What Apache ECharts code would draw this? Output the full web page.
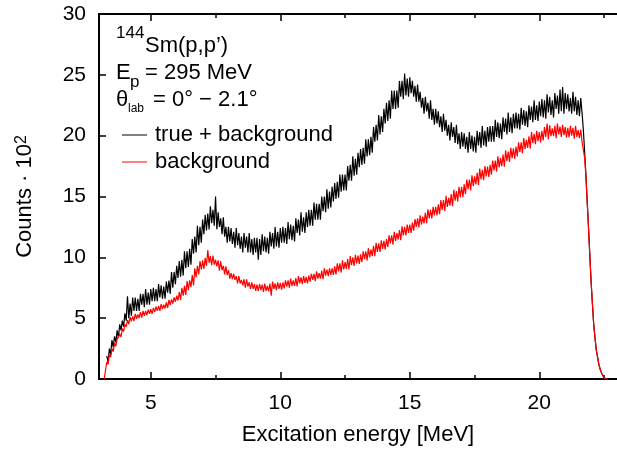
<!DOCTYPE html>
<html>
<head>
<meta charset="utf-8">
<script src="https://cdn.jsdelivr.net/npm/echarts@6/dist/echarts.min.js"></script>
<style>
  html, body { margin: 0; padding: 0; background: #fff; }
  #chart { width: 617px; height: 451px; }
</style>
</head>
<body>
<div id="chart"></div>
<script>
// spectrum bins: first bin energy and bin width [MeV]
// every bin holds the top and the bottom of the noisy band (counts / 100)
const E_START = 3.2
const E_STEP = 0.1

// true + background
const totalHigh = [null,
  1.9, 2.5, 3.2, 3.5, 4.0, 4.5, 4.8, 5.4,
  6.8, 6.2, 6.7, 6.7, 6.6, 7.0, 7.0, 7.4, 7.1, 7.4,
  7.5, 7.4, 7.8, 7.7, 7.6, 8.0, 8.1, 8.8, 8.8, 9.3,
  9.7, 9.8, 10.5, 10.5, 10.7, 11.5, 11.7, 12.6, 12.5, 13.1,
  13.5, 13.6, 14.2, 13.9, 15.0, 13.7, 13.2, 13.3, 12.5, 12.5,
  12.4, 12.1, 12.4, 12.0, 11.7, 12.0, 11.7, 12.0, 11.5, 11.6,
  11.6, 11.5, 11.9, 11.7, 11.6, 12.1, 12.0, 12.5, 12.1, 12.4,
  12.5, 12.4, 12.9, 12.7, 12.6, 13.2, 13.1, 13.7, 13.3, 13.7,
  13.9, 13.9, 14.5, 14.4, 14.4, 15.0, 15.0, 15.6, 15.4, 15.8,
  16.1, 16.2, 16.8, 16.8, 16.8, 17.5, 17.6, 18.3, 18.1, 18.6,
  18.9, 19.0, 19.7, 19.7, 19.9, 20.7, 20.9, 21.7, 21.6, 22.2,
  22.7, 22.9, 23.7, 23.7, 23.7, 24.5, 24.5, 25.1, 24.7, 24.8,
  24.5, 24.1, 24.2, 23.6, 23.1, 23.2, 22.7, 22.9, 22.2, 22.2,
  22.0, 21.6, 21.8, 21.3, 20.9, 21.1, 20.7, 20.9, 20.2, 20.3,
  20.2, 19.9, 20.3, 20.0, 19.9, 20.4, 20.3, 20.8, 20.4, 20.7,
  20.8, 20.8, 21.3, 21.1, 21.0, 21.5, 21.4, 21.9, 21.5, 21.8,
  21.9, 21.8, 22.3, 22.1, 22.0, 22.5, 22.4, 22.9, 22.5, 22.8,
  23.0, 22.9, 23.4, 23.2, 22.9, 23.5, 23.3, 23.8, 24.0, 23.5,
  23.4, 23.1, 23.6, 23.2, 22.9, 23.1,
  20.5, 16.8, 12.5, 8.0, 4.5, 2.4, 1.2, 0.5, 0.1, 0.0
]
const totalLow = [null,
  1.4, 2.0, 2.6, 3.0, 3.4, 4.0, 4.3, 4.8,
  5.0, 5.2, 5.6, 5.6, 5.6, 6.1, 5.9, 6.1, 6.1, 6.4,
  6.4, 6.4, 6.7, 6.6, 6.6, 7.1, 7.0, 7.5, 7.8, 8.3,
  8.4, 8.5, 9.1, 9.2, 9.4, 10.3, 10.4, 11.0, 11.2, 11.9,
  12.2, 12.3, 12.8, 12.6, 12.3, 12.5, 11.9, 11.7, 11.2, 11.3,
  11.1, 10.8, 11.0, 10.7, 10.4, 10.8, 10.4, 10.4, 10.2, 10.4,
  9.8, 10.2, 10.5, 10.4, 10.3, 10.9, 10.7, 10.9, 10.8, 11.2,
  11.2, 11.1, 11.5, 11.4, 11.3, 12.0, 11.8, 12.1, 12.0, 12.5,
  12.6, 12.6, 13.1, 13.1, 13.1, 13.8, 13.7, 14.0, 14.1, 14.6,
  14.8, 14.9, 15.4, 15.5, 15.5, 16.3, 16.3, 16.7, 16.8, 17.4,
  17.6, 17.7, 18.3, 18.4, 18.6, 19.5, 19.6, 20.1, 20.3, 21.0,
  21.2, 21.4, 22.2, 22.2, 22.3, 23.2, 23.0, 23.3, 23.2, 23.5,
  23.2, 22.8, 22.8, 22.3, 21.8, 22.0, 21.4, 21.3, 20.9, 21.0,
  20.7, 20.3, 20.4, 20.0, 19.6, 19.9, 19.4, 19.3, 18.9, 19.1,
  18.9, 18.6, 18.9, 18.7, 18.6, 19.2, 19.0, 19.2, 19.1, 19.5,
  19.5, 19.5, 19.9, 19.8, 19.7, 20.3, 20.1, 20.3, 20.2, 20.6,
  20.6, 20.5, 20.9, 20.8, 20.7, 21.3, 21.1, 21.3, 21.2, 21.6,
  21.5, 21.4, 21.9, 21.7, 21.5, 22.2, 21.8, 22.0, 21.8, 22.2,
  22.0, 21.8, 22.0, 21.7, 21.6, 21.9,
  18.7, 14.6, 10.2, 6.2, 3.4, 1.8, 0.8, 0.3, 0.0, 0.0
]

// background only
const bgHigh = [0.0,
  1.4, 2.0, 2.5, 2.95, 3.25, 3.7, 4.15, 4.5,
  4.85, 5.1, 5.15, 5.35, 5.3, 5.5, 5.6, 5.6, 5.7, 5.75,
  5.85, 5.95, 6.0, 6.15, 6.1, 6.3, 6.5, 6.55, 6.7, 6.85,
  7.15, 7.5, 7.65, 8.05, 8.1, 8.55, 9.1, 9.3, 9.7, 9.75,
  9.95, 10.6, 10.1, 10.15, 9.8, 9.75, 9.7, 9.3, 9.25, 8.95,
  8.7, 8.65, 8.45, 8.45, 8.15, 8.2, 8.2, 7.95, 7.95, 7.8,
  7.75, 7.8, 7.75, 7.85, 7.65, 7.85, 8.0, 7.85, 7.95, 7.9,
  7.95, 8.1, 8.1, 8.25, 8.1, 8.3, 8.45, 8.35, 8.45, 8.4,
  8.5, 8.65, 8.65, 8.85, 8.7, 8.9, 9.1, 9.0, 9.1, 9.1,
  9.25, 9.5, 9.5, 9.75, 9.6, 9.85, 10.1, 10.0, 10.2, 10.15,
  10.25, 10.5, 10.5, 10.75, 10.65, 10.95, 11.2, 11.15, 11.4, 11.35,
  11.5, 11.8, 11.8, 12.1, 12.0, 12.25, 12.55, 12.5, 12.7, 12.7,
  12.85, 13.15, 13.2, 13.45, 13.35, 13.65, 13.95, 13.9, 14.15, 14.15,
  14.35, 14.7, 14.7, 15.05, 14.9, 15.2, 15.55, 15.45, 15.8, 15.8,
  16.0, 16.4, 16.4, 16.75, 16.65, 16.95, 17.3, 17.2, 17.5, 17.45,
  17.6, 17.95, 17.95, 18.3, 18.15, 18.45, 18.8, 18.7, 19.0, 18.95,
  19.1, 19.45, 19.45, 19.8, 19.65, 19.95, 20.3, 20.15, 20.4, 20.3,
  20.4, 20.7, 21.0, 20.85, 20.6, 20.8, 21.0, 20.75, 20.9, 20.7,
  20.65, 20.8, 20.65, 20.8, 20.45, 20.5,
  19.4, 16.6, 12.4, 8.0, 4.5, 2.4, 1.2, 0.5, 0.1, 0.0
]
const bgLow = [0.0,
  1.2, 1.8, 2.25, 2.7, 3.1, 3.45, 3.9, 4.3,
  4.5, 4.75, 4.75, 4.95, 5.0, 5.05, 5.2, 5.25, 5.35, 5.35,
  5.5, 5.6, 5.6, 5.75, 5.8, 5.85, 6.1, 6.2, 6.35, 6.45,
  6.5, 6.85, 6.9, 7.3, 7.55, 7.7, 8.35, 8.6, 9.0, 9.05,
  9.3, 9.55, 9.35, 9.4, 9.25, 8.9, 8.95, 8.6, 8.55, 8.25,
  8.2, 8.15, 7.85, 7.85, 7.7, 7.5, 7.6, 7.4, 7.4, 7.25,
  7.25, 7.3, 7.15, 7.25, 7.2, 6.85, 7.4, 7.3, 7.4, 7.35,
  7.45, 7.6, 7.5, 7.65, 7.65, 7.6, 7.85, 7.8, 7.9, 7.85,
  8.0, 8.15, 8.05, 8.25, 8.25, 8.2, 8.5, 8.45, 8.55, 8.55,
  8.6, 8.85, 8.75, 9.0, 9.05, 9.0, 9.35, 9.3, 9.5, 9.45,
  9.6, 9.85, 9.75, 10.0, 10.1, 10.1, 10.45, 10.45, 10.7, 10.65,
  10.85, 11.15, 11.05, 11.35, 11.45, 11.4, 11.8, 11.8, 12.0, 12.0,
  12.2, 12.5, 12.45, 12.7, 12.8, 12.8, 13.2, 13.2, 13.45, 13.45,
  13.55, 13.9, 13.8, 14.15, 14.25, 14.2, 14.65, 14.6, 14.95, 14.95,
  15.2, 15.6, 15.5, 15.85, 16.0, 15.95, 16.4, 16.35, 16.65, 16.6,
  16.8, 17.15, 17.05, 17.4, 17.5, 17.45, 17.9, 17.85, 18.15, 18.1,
  18.3, 18.65, 18.55, 18.9, 19.0, 18.95, 19.4, 19.3, 19.55, 19.45,
  19.6, 19.9, 19.7, 19.95, 19.95, 19.8, 20.1, 19.9, 20.05, 19.85,
  19.85, 20.0, 19.75, 19.9, 19.8, 19.5,
  18.2, 14.5, 10.2, 6.2, 3.4, 1.8, 0.8, 0.3, 0.0, 0.0
]

const xMajorTicks = [5, 10, 15, 20]
const xMinorTicks = [7.5, 12.5, 17.5, 22.5]
const seriesNames = ['true + background', 'background']

const FONT = '"Liberation Sans", Arial, sans-serif'

// top of the band at the bin start, bottom half a bin later
function toPairs(high, low) {
  const out = []
  high.forEach((v, i) => {
    const e = E_START + i * E_STEP
    out.push([+e.toFixed(3), v])
    out.push([+(e + E_STEP / 2).toFixed(3), low[i]])
  })
  return out
}

const chart = echarts.init(document.getElementById('chart'))

const baseX = {
  type: 'value',
  min: 3,
  max: 23,
  splitLine: { show: false },
  axisLabel: { show: false },
  axisLine: { show: false },
}

chart.setOption({
  animation: false,
  grid: { left: 99, right: -6, top: 14, bottom: 68 },
  legend: {
    orient: 'vertical',
    left: 117,
    top: 119,
    icon: 'rect',
    itemWidth: 25,
    itemHeight: 1,
    itemGap: 5,
    textStyle: { fontSize: 22, fontFamily: FONT, color: '#000', padding: [0, 0, 0, 3] },
    data: seriesNames,
  },
  xAxis: [
    {
      ...baseX,
      position: 'bottom',
      axisLine: { show: true, onZero: false, lineStyle: { color: '#000', width: 2 } },
      axisTick: { inside: true, length: 7, customValues: xMajorTicks, lineStyle: { color: '#000', width: 1.5 } },
      axisLabel: { show: true, customValues: xMajorTicks, fontSize: 21, fontFamily: FONT, color: '#000', margin: 14 },
      name: 'Excitation energy [MeV]',
      nameLocation: 'middle',
      nameGap: 45,
      nameTextStyle: { fontSize: 22, fontFamily: FONT, color: '#000' },
    },
    {
      ...baseX,
      position: 'bottom',
      axisTick: { inside: true, length: 4, customValues: xMinorTicks, lineStyle: { color: '#000', width: 1.5 } },
    },
    {
      ...baseX,
      position: 'top',
      axisLine: { show: true, onZero: false, lineStyle: { color: '#000', width: 2 } },
      axisTick: { inside: true, length: 7, customValues: xMajorTicks, lineStyle: { color: '#000', width: 1.5 } },
    },
    {
      ...baseX,
      position: 'top',
      axisTick: { inside: true, length: 4, customValues: xMinorTicks, lineStyle: { color: '#000', width: 1.5 } },
    },
  ],
  yAxis: {
    type: 'value',
    min: 0,
    max: 30,
    interval: 5,
    splitLine: { show: false },
    axisLine: { show: true, lineStyle: { color: '#000', width: 2 } },
    axisTick: { inside: true, length: 7, lineStyle: { color: '#000', width: 1.5 } },
    axisLabel: { fontSize: 21, fontFamily: FONT, color: '#000', margin: 13 },
    name: 'Counts · 10{s|2}',
    nameLocation: 'middle',
    nameGap: 63,
    nameTextStyle: {
      fontSize: 22,
      fontFamily: FONT,
      color: '#000',
      rich: { s: { fontSize: 16, fontFamily: FONT, color: '#000', verticalAlign: 'top' } },
    },
  },
  graphic: [
    { type: 'text', x: 116, y: 33, style: { text: '144', font: '17px ' + FONT, fill: '#000', verticalAlign: 'middle' } },
    { type: 'text', x: 145, y: 46, style: { text: 'Sm(p,p’)', font: '22px ' + FONT, fill: '#000', verticalAlign: 'middle' } },
    { type: 'text', x: 116, y: 73, style: { text: 'E', font: '22px ' + FONT, fill: '#000', verticalAlign: 'middle' } },
    { type: 'text', x: 130, y: 82, style: { text: 'p', font: '17px ' + FONT, fill: '#000', verticalAlign: 'middle' } },
    { type: 'text', x: 145, y: 73, style: { text: '= 295 MeV', font: '22px ' + FONT, fill: '#000', verticalAlign: 'middle' } },
    { type: 'text', x: 116, y: 100, style: { text: 'θ', font: '22px ' + FONT, fill: '#000', verticalAlign: 'middle' } },
    { type: 'text', x: 128, y: 109, style: { text: 'lab', font: '12px ' + FONT, fill: '#000', verticalAlign: 'middle' } },
    { type: 'text', x: 153, y: 100, style: { text: '= 0° − 2.1°', font: '22px ' + FONT, fill: '#000', verticalAlign: 'middle' } },
  ],
  series: [
    {
      name: seriesNames[0],
      type: 'line',
      symbol: 'none',
      lineStyle: { color: '#000', width: 1.2 },
      itemStyle: { color: '#000' },
      data: toPairs(totalHigh, totalLow),
    },
    {
      name: seriesNames[1],
      type: 'line',
      symbol: 'none',
      lineStyle: { color: '#ff0000', width: 1.2 },
      itemStyle: { color: '#ff0000' },
      data: toPairs(bgHigh, bgLow),
    },
  ],
})
</script>
</body>
</html>
